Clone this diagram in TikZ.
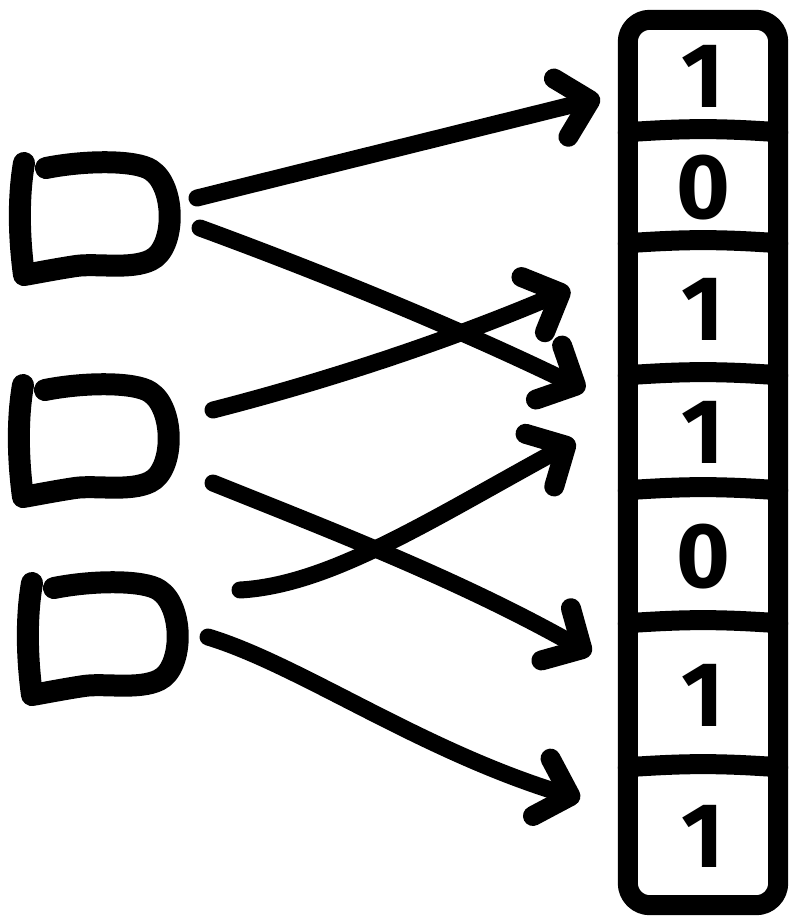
\documentclass[tikz,border=0pt]{standalone}
\usepackage{fontspec}
\setmainfont{Fira Sans}
\usetikzlibrary{arrows.meta,calc}
\begin{document}
\begin{tikzpicture}[x=1pt,y=-1pt,
  ink/.style={line cap=round,line join=round},
  dstroke/.style={ink,line width=22pt},
  frame/.style={ink,line width=20pt},
  arr/.style={ink,line width=17pt,-{Straight Barb[length=30pt,width=60pt,round,line width=20pt]}},
  cell/.style={minimum width=150pt,inner sep=0pt,font=\fontsize{92}{92}\selectfont\bfseries},
  dshape/.pic={
    \draw[dstroke] (-50,-50) .. controls (-10,-58) and (40,-58) .. (55,-48)
      .. controls (80,-32) and (80,30) .. (55,42)
      .. controls (35,52) and (0,45) .. (-20,48)
      .. controls (-40,51) and (-60,55) .. (-72,57)
      .. controls (-77,20) and (-78,-20) .. (-72,-55);
  }]
\useasboundingbox (0,0) rectangle (794,921);

% items
\pic (d1) at (96,218) {dshape};
\pic (d2) at (95,440) {dshape};
\pic (d3) at (104,638) {dshape};

% bit array cells
\node[cell,minimum height=112pt] (c1) at (703,76)    {1};
\node[cell,minimum height=111pt] (c2) at (703,187.5) {0};
\node[cell,minimum height=132pt] (c3) at (703,309)   {1};
\node[cell,minimum height=115pt] (c4) at (703,432.5) {1};
\node[cell,minimum height=133pt] (c5) at (703,556.5) {0};
\node[cell,minimum height=144pt] (c6) at (703,695)   {1};
\node[cell,minimum height=138pt] (c7) at (703,836)   {1};

\draw[frame,rounded corners=22pt] (c1.north west) rectangle (c7.south east);
\foreach \c in {c1,c2,c3,c4,c5,c6}
  \draw[frame] (\c.south west) to[bend left=4] (\c.south east);

% arrow ends
\coordinate (s1) at (197,198);  \coordinate (t1) at (600,98);
\coordinate (s2) at (200,228);  \coordinate (t2) at (585,390);
\coordinate (s3) at (213,410);  \coordinate (t3) at (570,289);
\coordinate (s4) at (213,483);  \coordinate (t4) at (591,654);
\coordinate (s5) at (240,590);  \coordinate (t5) at (575,441);
\coordinate (s6) at (208,637);  \coordinate (t6) at (580,799);

\draw[arr] (s1) -- (t1);
\draw[arr] (s2) .. controls (260,250) and (420,310) .. (t2);
\draw[arr] (s3) .. controls (330,380) and (450,340) .. (t3);
\draw[arr] (s4) .. controls (330,530) and (460,580) .. (t4);
\draw[arr] (s5) .. controls (330,585) and (430,520) .. (t5);
\draw[arr] (s6) .. controls (300,665) and (420,750) .. (t6);
\end{tikzpicture}
\end{document}
